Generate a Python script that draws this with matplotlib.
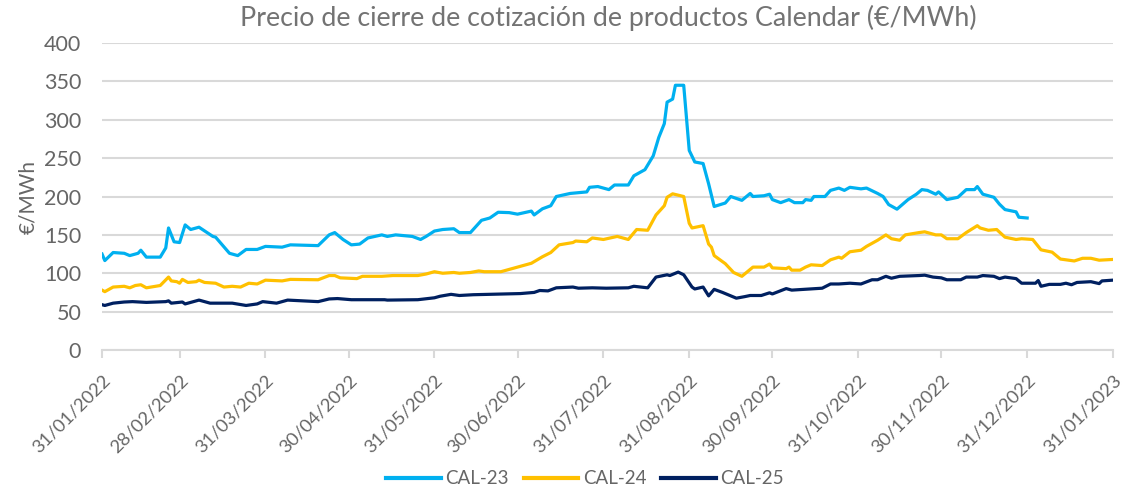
import matplotlib
matplotlib.use("Agg")
import matplotlib.pyplot as plt
import matplotlib.transforms as mtransforms
import pandas as pd

# Days since 31/01/2022 and closing prices (€/MWh)
cal23_days = [0, 1, 4, 8, 10, 13, 14, 16, 21, 23, 24, 26, 28, 30, 32, 35, 40, 41, 46, 49,
              52, 56, 59, 65, 68, 78, 82, 84, 87, 90, 93, 96, 101, 103, 106, 112, 115, 117,
              120, 123, 127, 129, 133, 137, 140, 143, 147, 150, 155, 156, 159, 162, 164,
              169, 175, 176, 179, 183, 185, 190, 192, 196, 199, 201, 203, 204, 206, 207,
              210, 212, 214, 217, 219, 221, 225, 227, 231, 234, 235, 239, 241, 242, 245,
              248, 250, 253, 254, 256, 257, 261, 263, 266, 268, 270, 274, 276, 280, 282,
              284, 287, 291, 294, 296, 298, 301, 302, 305, 309, 312, 315, 316, 318, 322,
              324, 326, 330, 331, 334]
cal23_vals = [125, 116.5, 127, 126, 123, 126, 130, 121, 121, 133, 159, 141, 140, 163, 157,
              160, 148, 147, 126, 123, 131, 131, 135, 134, 137, 136, 150, 153, 144, 137, 138,
              146, 150, 148, 150, 148, 144, 148, 155, 157, 158, 153, 153, 169, 172, 179.5,
              179, 177, 181, 176, 184, 188, 200, 204, 206, 212, 213, 209, 215, 215, 227, 235,
              253, 277, 295, 323, 327, 345, 345, 260, 245, 243, 216.5, 187, 191.5, 200, 195,
              204, 200, 201, 203, 196, 192, 196, 192, 192, 196, 195, 200, 200, 208, 211, 208,
              212, 210, 211, 204, 200, 189.5, 183.5, 196, 203, 209, 208, 203, 206, 196, 199,
              209, 209, 213, 203, 199, 190, 183, 180, 173, 172]

cal24_days = [0, 1, 4, 8, 10, 12, 14, 16, 21, 24, 25, 27, 28, 29, 31, 34, 35, 37, 41, 44,
              47, 50, 53, 56, 59, 65, 68, 78, 82, 84, 86, 92, 94, 101, 105, 114, 117, 120,
              123, 127, 129, 133, 136, 138, 144, 146, 150, 155, 159, 162, 165, 170, 171,
              175, 177, 181, 186, 190, 193, 197, 200, 203, 204, 206, 210, 212, 213, 217,
              219, 220, 221, 225, 228, 231, 232, 235, 239, 241, 242, 247, 248, 249, 252,
              254, 256, 260, 263, 266, 267, 270, 274, 276, 280, 283, 285, 288, 290, 295,
              297, 301, 303, 305, 309, 312, 316, 317, 320, 323, 326, 330, 332, 336, 339,
              343, 346, 349, 351, 354, 357, 360, 365]
cal24_vals = [78, 76, 82, 83, 81, 84, 85, 81, 84, 95, 90, 89, 87, 92, 88, 89, 91, 88, 87, 82,
              83, 82, 87, 86, 91, 90, 92, 91.5, 97, 97, 94, 93, 96, 96, 97, 97, 99, 102, 100,
              101, 100, 101, 103, 102, 102, 104, 108, 113, 121.5, 127, 137, 140, 142, 141,
              146, 144, 148, 144, 157, 156, 176, 188, 199, 203.5, 200, 165, 159, 162, 138,
              134, 123, 112.5, 101, 96, 99, 108, 108, 112, 107, 106, 108, 104, 104, 108, 111,
              110, 117.5, 121, 119.5, 128, 130, 135, 143, 150, 145, 143, 150, 153, 154, 150,
              150, 145, 145, 153, 162, 159, 156, 157, 147, 144, 145, 144, 130.5, 127.5, 118.5,
              117, 116, 119.5, 119.5, 117, 118]

cal25_days = [0, 1, 4, 8, 11, 16, 23, 24, 25, 29, 30, 33, 35, 39, 47, 52, 56, 58, 63, 67,
              78, 82, 85, 90, 102, 103, 114, 120, 122, 126, 129, 134, 151, 156, 158, 161,
              164, 170, 172, 177, 182, 190, 192, 197, 200, 204, 205, 208, 210, 213, 214,
              217, 219, 221, 224, 229, 232, 234, 238, 241, 242, 247, 249, 260, 263, 266,
              270, 274, 278, 280, 283, 285, 288, 295, 297, 300, 303, 305, 310, 312, 316,
              318, 322, 324, 326, 330, 332, 337, 338, 339, 342, 346, 348, 350, 352, 357,
              360, 361, 365]
cal25_vals = [59, 58, 61, 62.5, 63, 62, 63, 64, 61, 62.5, 60, 63, 65, 61, 61, 58, 60, 63, 61,
              65, 63, 66.5, 67, 65.5, 65.5, 65, 65.5, 68, 70, 72.5, 71, 72, 73.5, 75, 77.5, 77,
              81, 82, 80.5, 81, 80.5, 81, 83, 81, 95, 98, 97, 101.5, 98, 82, 79.5, 82, 70.5,
              79, 75, 67.5, 69.5, 71, 71, 74.5, 73, 80, 78, 80.5, 86, 86, 87, 86, 91.5, 91.5,
              96, 93.5, 96, 97, 97.5, 95, 94, 91.5, 91.5, 95, 95, 97, 96, 93, 95, 93, 87, 87,
              90.5, 83, 85.5, 85.5, 87, 85, 88, 89, 86.5, 90, 91]

series_names = ["CAL-23", "CAL-24", "CAL-25"]
series_colors = ["#00B0F0", "#FFC000", "#002060"]

tick_dates = ["2022-01-31", "2022-02-28", "2022-03-31", "2022-04-30", "2022-05-31",
              "2022-06-30", "2022-07-31", "2022-08-31", "2022-09-30", "2022-10-31",
              "2022-11-30", "2022-12-31", "2023-01-31"]

title = "Precio de cierre de cotización de productos Calendar (€/MWh)"
ylabel = "€/MWh"

start = pd.Timestamp("2022-01-31")
def to_dates(days):
    return [start + pd.Timedelta(days=d) for d in days]

TXT = "#666666"
plt.rcParams['font.family'] = ['Lato', 'DejaVu Sans']

fig = plt.figure(figsize=(11.34, 4.95), dpi=100)
ax = fig.add_axes([0.09, 0.293, 0.8915, 0.62])

for days, vals, name, col in zip([cal23_days, cal24_days, cal25_days],
                                 [cal23_vals, cal24_vals, cal25_vals],
                                 series_names, series_colors):
    ax.plot(to_dates(days), vals, color=col, lw=2.3, label=name, solid_joinstyle='round')

ax.set_ylim(0, 400)
ax.set_yticks(range(0, 401, 50))
ax.set_xlim(pd.Timestamp(tick_dates[0]), pd.Timestamp(tick_dates[-1]))
tds = pd.to_datetime(tick_dates)
ax.set_xticks(tds)
ax.set_xticklabels([d.strftime("%d/%m/%Y") for d in tds], rotation=45, ha='right',
                   rotation_mode='anchor', fontsize=13.3, color=TXT)
off = mtransforms.ScaledTranslation(4 / 100, 0, fig.dpi_scale_trans)
for lab in ax.get_xticklabels():
    lab.set_transform(lab.get_transform() + off)
ax.tick_params(axis='y', length=0, labelsize=15.5, labelcolor=TXT, pad=15)
ax.tick_params(axis='x', length=6, color="#D9D9D9", width=1.5, pad=10)
ax.grid(axis='y', color="#D9D9D9", lw=1.5)
ax.set_axisbelow(True)
for s in ['top', 'right', 'left']:
    ax.spines[s].set_visible(False)
ax.spines['bottom'].set_color("#D9D9D9")
ax.spines['bottom'].set_linewidth(1.5)

ax.set_ylabel(ylabel, fontsize=15, color=TXT, labelpad=4)
fig.text(0.536, 0.963, title, ha='center', va='center', fontsize=19.3, color="#737373")

leg = fig.legend(loc='center', bbox_to_anchor=(0.516, 0.033), ncol=3, frameon=False,
                 fontsize=13.5, handlelength=2.9, handletextpad=0.25, columnspacing=0.8)
for t in leg.get_texts():
    t.set_color(TXT)
for l in leg.get_lines():
    l.set_linewidth(3)

fig.savefig("out.png", dpi=100)
